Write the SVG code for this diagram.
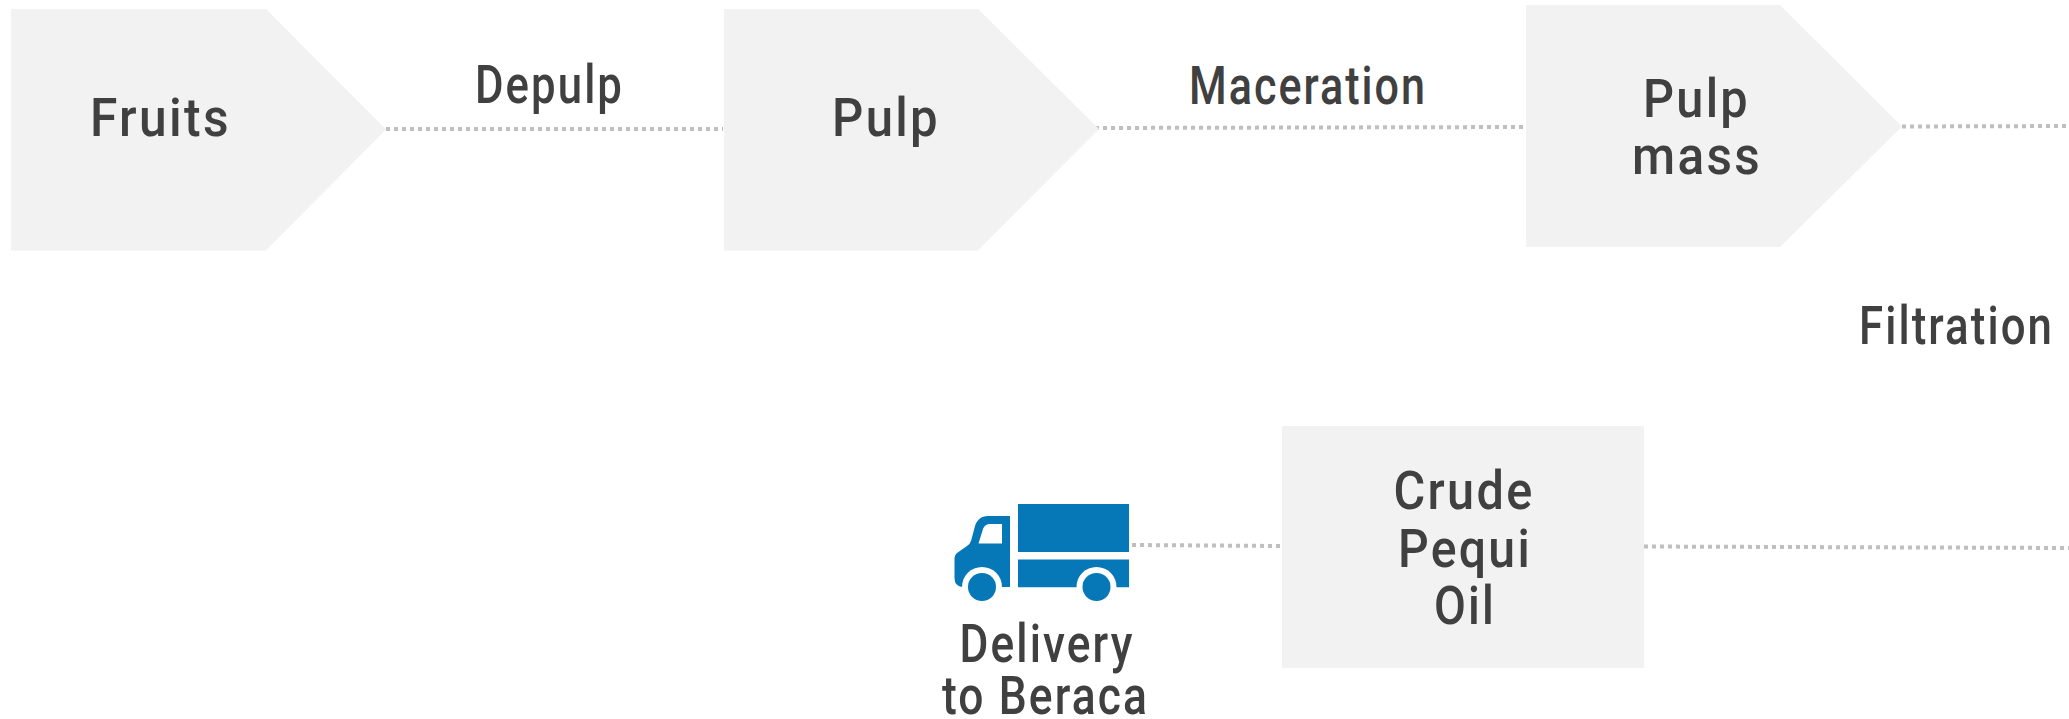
<svg xmlns="http://www.w3.org/2000/svg" width="2069" height="719" viewBox="0 0 2069 719">
<style>
.box{fill:#f2f2f2}
.t{font-family:"Roboto","Liberation Sans",sans-serif;font-size:53px;font-weight:500;fill:#404040;text-anchor:middle;letter-spacing:2.5px}
.c{fill:none;stroke:#bfbfbf;stroke-width:4;stroke-dasharray:4 4}
.truck{fill:#0678b8}
</style>
<rect width="2069" height="719" fill="#fff"/>
<g id="connectors">
<line class="c" x1="386" y1="129" x2="723" y2="129"/>
<line class="c" x1="1095" y1="128" x2="1523" y2="127"/>
<line class="c" x1="1902" y1="126.5" x2="2069" y2="126"/>
<line class="c" x1="1132" y1="545" x2="1282" y2="546"/>
<line class="c" x1="1644" y1="546.5" x2="2069" y2="548"/>
</g>
<g id="fruits"><polygon class="box" points="11,9 266,9 386,129.500 266,250.500 11,250.500"/><text class="t" x="160.500" y="136" textLength="141" lengthAdjust="spacingAndGlyphs">Fruits</text></g>
<g id="depulp"><text class="t" x="549.500" y="103" textLength="149" lengthAdjust="spacingAndGlyphs">Depulp</text></g>
<g id="pulp"><polygon class="box" points="724,9 978,9 1099,129 978,250.500 724,250.500"/><text class="t" x="886" y="136" textLength="108" lengthAdjust="spacingAndGlyphs">Pulp</text></g>
<g id="maceration"><text class="t" x="1308" y="104" textLength="238" lengthAdjust="spacingAndGlyphs">Maceration</text></g>
<g id="pulp-mass"><polygon class="box" points="1526,5 1780,5 1902,126.500 1780,247 1526,247"/><text class="t" x="1696.500" y="117" textLength="107" lengthAdjust="spacingAndGlyphs">Pulp</text><text class="t" x="1697" y="174" textLength="130" lengthAdjust="spacingAndGlyphs">mass</text></g>
<g id="filtration"><text class="t" x="1956.500" y="344" textLength="195" lengthAdjust="spacingAndGlyphs">Filtration</text></g>
<g id="crude-oil"><rect class="box" x="1282" y="426" width="362" height="242"/><text class="t" x="1464" y="509" textLength="141" lengthAdjust="spacingAndGlyphs">Crude</text><text class="t" x="1465" y="567" textLength="134" lengthAdjust="spacingAndGlyphs">Pequi</text><text class="t" x="1465" y="624" textLength="62" lengthAdjust="spacingAndGlyphs">Oil</text></g>
<g id="delivery">
<rect class="truck" x="1018" y="504" width="111" height="48"/>
<rect class="truck" x="1018" y="559.500" width="111" height="28"/>
<path class="truck" fill-rule="evenodd" d="M1010 516H988C981 516 977 520 975 526L971 541Q970 544 967 546L957 553Q954.500 555 954.500 558V578Q954.500 586 962 587H1010ZM1002 524V543.500H978.500L983 529Q985 524 990 524Z"/>
<circle cx="982" cy="587" r="20" fill="#fff"/>
<circle cx="1096.500" cy="587" r="20" fill="#fff"/>
<rect x="950" y="587.500" width="185" height="15" fill="#fff"/>
<circle class="truck" cx="982" cy="587" r="14"/>
<circle class="truck" cx="1096.500" cy="587" r="14"/>
<text class="t" x="1047" y="662" textLength="175" lengthAdjust="spacingAndGlyphs">Delivery</text><text class="t" x="1045.500" y="714" textLength="207" lengthAdjust="spacingAndGlyphs">to Beraca</text>
</g>
</svg>
